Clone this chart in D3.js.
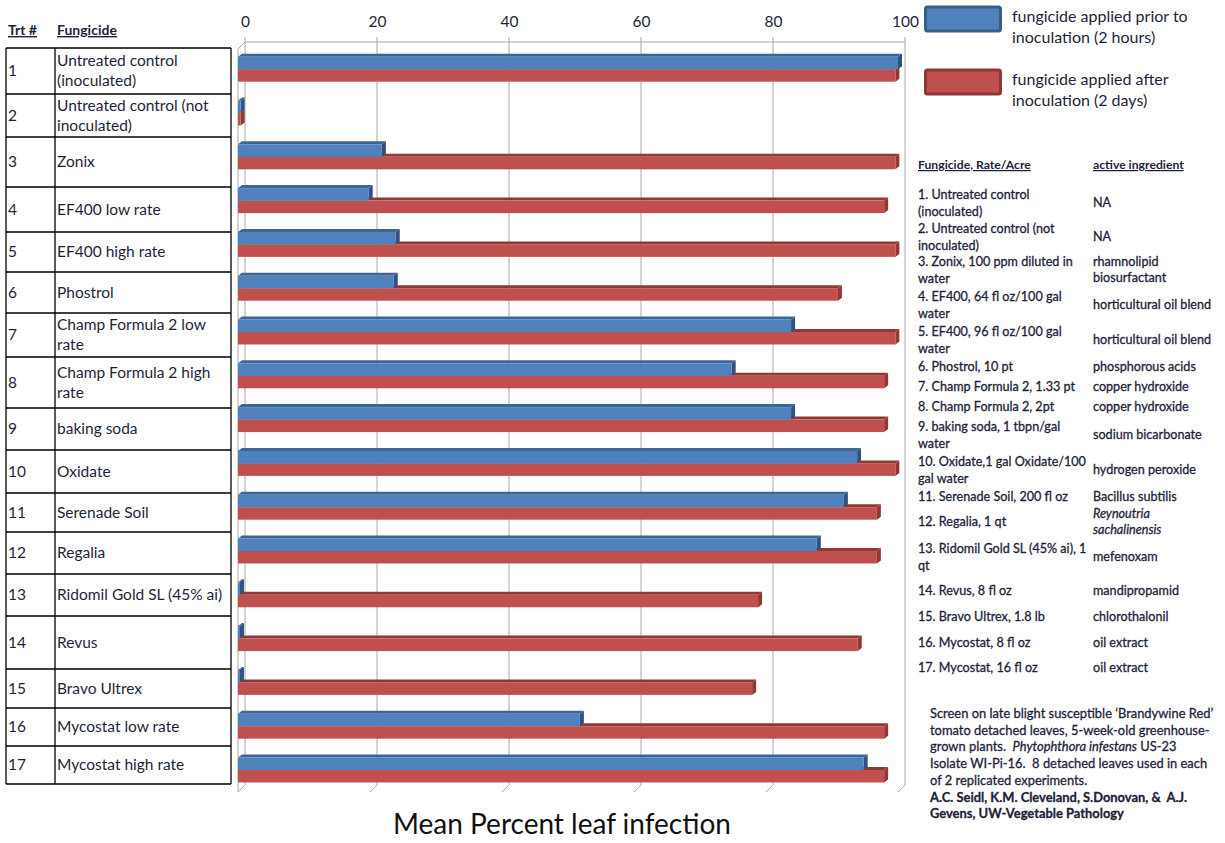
<!DOCTYPE html>
<html>
<head>
<meta charset="utf-8">
<script src="https://cdn.jsdelivr.net/npm/d3@7"></script>
<style>
  body { margin: 0; background: #fff; }
  text { font-family: Lato, "Open Sans", sans-serif; fill: #1f1f3a; }
</style>
</head>
<body>
<div id="chart"></div>
<script>
// treatments, names shown in the left table
const trt = [1, 2, 3, 4, 5, 6, 7, 8, 9, 10, 11, 12, 13, 14, 15, 16, 17];
const fungicideNames = [
  ["Untreated control", "(inoculated)"],
  ["Untreated control (not", "inoculated)"],
  ["Zonix"],
  ["EF400 low rate"],
  ["EF400 high rate"],
  ["Phostrol"],
  ["Champ Formula 2 low", "rate"],
  ["Champ Formula 2 high", "rate"],
  ["baking soda"],
  ["Oxidate"],
  ["Serenade Soil"],
  ["Regalia"],
  ["Ridomil Gold SL (45% ai)"],
  ["Revus"],
  ["Bravo Ultrex"],
  ["Mycostat low rate"],
  ["Mycostat high rate"]
];

// mean percent leaf infection
const priorValues = [100, 0.4, 21.8, 19.8, 23.9, 23.6, 83.8, 74.8, 83.8, 93.8, 91.8, 87.7, 0.3, 0.3, 0.3, 51.8, 94.8];
const afterValues = [99.6, 0.4, 99.6, 97.9, 99.6, 90.9, 99.6, 97.9, 97.9, 99.6, 96.8, 96.8, 78.8, 93.9, 77.9, 97.9, 97.9];

const xTicks = [0, 20, 40, 60, 80, 100];
const seriesNames = [
  ["fungicide applied prior to", "inoculation (2 hours)"],
  ["fungicide applied after", "inoculation (2 days)"]
];

// key table on the right
const rateLabels = [
  ["1. Untreated control", "(inoculated)"],
  ["2. Untreated control (not", "inoculated)"],
  ["3. Zonix, 100 ppm diluted in", "water"],
  ["4. EF400, 64 fl oz/100 gal", "water"],
  ["5. EF400, 96 fl oz/100 gal", "water"],
  ["6. Phostrol, 10 pt"],
  ["7. Champ Formula 2, 1.33 pt"],
  ["8. Champ Formula 2, 2pt"],
  ["9. baking soda, 1 tbpn/gal", "water"],
  ["10. Oxidate,1 gal Oxidate/100", "gal water"],
  ["11. Serenade Soil, 200 fl oz"],
  ["12. Regalia, 1 qt"],
  ["13. Ridomil Gold SL (45% ai), 1", "qt"],
  ["14. Revus, 8 fl oz"],
  ["15. Bravo Ultrex, 1.8 lb"],
  ["16. Mycostat, 8 fl oz"],
  ["17. Mycostat, 16 fl oz"]
];
const activeIngredients = [
  ["NA"], ["NA"], ["rhamnolipid", "biosurfactant"],
  ["horticultural oil blend"], ["horticultural oil blend"],
  ["phosphorous acids"], ["copper hydroxide"], ["copper hydroxide"],
  ["sodium bicarbonate"], ["hydrogen peroxide"], ["Bacillus subtilis"],
  ["Reynoutria", "sachalinensis"], ["mefenoxam"], ["mandipropamid"],
  ["chlorothalonil"], ["oil extract"], ["oil extract"]
];
const italicIngredient = [false, false, false, false, false, false, false, false, false, false, false, true, false, false, false, false, false];

// footnote: each line is a list of [text, style] pieces
const footnote = [
  [["Screen on late blight susceptible \u2018Brandywine Red\u2019", ""]],
  [["tomato detached leaves, 5-week-old greenhouse-", ""]],
  [["grown plants.  ", ""], ["Phytophthora infestans", "i"], [" US-23", ""]],
  [["Isolate WI-Pi-16.  8 detached leaves used in each", ""]],
  [["of 2 replicated experiments.", ""]],
  [["A.C. Seidl, K.M. Cleveland, S.Donovan, &  A.J.", "b"]],
  [["Gevens, UW-Vegetable Pathology", "b"]]
];

// layout (table rows do not line up exactly with the bar bands in the original)
const tableRowEdges = [48, 94, 137, 187, 232, 272, 313, 357, 408, 450, 493, 532, 574, 616, 669, 708, 746, 784];
const keyRowY = [203, 237, 270, 305, 340, 367, 387, 407, 435, 470, 497, 522, 557, 591, 617, 643, 668];

const W = 1225, H = 843;
const svg = d3.select("#chart").append("svg")
    .attr("width", W)
    .attr("height", H);

// 3-D frame: front plane and back wall offset
const front = {left: 238, right: 898, top: 49, bottom: 792};
const depth = {dx: 7, dy: -7};
const xFront = d3.scaleLinear().domain([0, 100]).range([front.left, front.right]);
const xBack = d3.scaleLinear().domain([0, 100]).range([front.left + depth.dx, front.right + depth.dx]);
const backTop = front.top + depth.dy, backBottom = front.bottom + depth.dy;

const y = d3.scaleBand().domain(trt).range([47.3, 791.9]).paddingInner(0.43).paddingOuter(0.215);
const bh = y.bandwidth() / 2;

const gridColor = "#a8a8a8";
const frame = svg.append("g").attr("fill", "none").attr("stroke", gridColor).attr("stroke-width", 1);

// back wall gridlines
frame.selectAll(".grid")
  .data(xTicks)
  .enter().append("line")
    .attr("class", "grid")
    .attr("x1", d => xBack(d)).attr("x2", d => xBack(d))
    .attr("y1", backTop - 5).attr("y2", backBottom);
frame.append("line")
    .attr("x1", xBack(0)).attr("x2", xBack(100))
    .attr("y1", backTop).attr("y2", backTop);
// left wall
frame.append("path")
    .attr("d", `M${xFront(0)},${front.bottom}L${xFront(0)},${front.top}L${xBack(0)},${backTop}`);
// floor ticks
frame.selectAll(".floor")
  .data(xTicks)
  .enter().append("line")
    .attr("class", "floor")
    .attr("x1", d => xBack(d)).attr("y1", backBottom)
    .attr("x2", d => xFront(d)).attr("y2", front.bottom);

// top axis labels
svg.append("g")
    .attr("transform", `translate(0,${backTop})`)
    .call(d3.axisTop(xBack).tickValues(xTicks).tickSize(0).tickPadding(15))
    .call(g => g.select(".domain").remove())
    .selectAll("text")
      .attr("font-size", "15.5px")
      .attr("font-family", "Lato, sans-serif")
      .style("fill", "#1f1f3a");

// 3-D bars
const bd = {dx: 4, dy: -3};
const series = [
  {values: priorValues, front: "#4f81bd", top: "#3d6595", side: "#2f5281", offset: 0},
  {values: afterValues, front: "#c0504d", top: "#8f3836", side: "#943634", offset: 1}
];

function drawBar(g, x1, y0, h, s) {
  const x0 = xFront(0);
  g.append("path")
      .attr("fill", s.top)
      .attr("d", `M${x0},${y0}L${x0 + bd.dx},${y0 + bd.dy}L${x1 + bd.dx},${y0 + bd.dy}L${x1},${y0}Z`);
  g.append("path")
      .attr("fill", s.side)
      .attr("d", `M${x1},${y0}L${x1 + bd.dx},${y0 + bd.dy}L${x1 + bd.dx},${y0 + h + bd.dy}L${x1},${y0 + h}Z`);
  g.append("rect")
      .attr("x", x0).attr("y", y0)
      .attr("width", x1 - x0).attr("height", h)
      .attr("fill", s.front);
}

const barsG = svg.append("g");
trt.forEach((t, i) => {
  const g = barsG.append("g");
  // red (after) first so the blue bar covers its top face
  [series[1], series[0]].forEach(s => {
    drawBar(g, xFront(s.values[i]), y(t) + s.offset * bh, bh, s);
  });
});

// x axis title
svg.append("text")
    .attr("x", 562)
    .attr("y", 834)
    .attr("text-anchor", "middle")
    .attr("font-size", "28px")
    .style("fill", "#111")
    .text("Mean Percent leaf infection");

// left table
const table = svg.append("g");
table.append("text").attr("x", 8).attr("y", 35)
    .attr("font-size", "14px").attr("font-weight", "bold")
    .style("text-decoration", "underline").text("Trt #");
table.append("text").attr("x", 57).attr("y", 35)
    .attr("font-size", "14px").attr("font-weight", "bold")
    .style("text-decoration", "underline").text("Fungicide");

const tblLines = table.append("g").attr("stroke", "#000").attr("stroke-width", 1.3);
tableRowEdges.forEach(e => {
  tblLines.append("line").attr("x1", 6).attr("x2", 231).attr("y1", e).attr("y2", e);
});
[6, 55, 231].forEach(xv => {
  tblLines.append("line").attr("x1", xv).attr("x2", xv)
      .attr("y1", tableRowEdges[0]).attr("y2", tableRowEdges[tableRowEdges.length - 1]);
});

trt.forEach((t, i) => {
  const mid = (tableRowEdges[i] + tableRowEdges[i + 1]) / 2;
  table.append("text").attr("x", 8).attr("y", mid + 5)
      .attr("font-size", "15.5px").text(t);
  const lines = fungicideNames[i];
  lines.forEach((ln, j) => {
    table.append("text")
        .attr("x", 57)
        .attr("y", mid + 5 + (j - (lines.length - 1) / 2) * 20)
        .attr("font-size", "15.5px")
        .text(ln);
  });
});

// legend
const legend = svg.append("g");
series.forEach((s, i) => {
  const ly = 7 + i * 63;
  legend.append("rect")
      .attr("x", 925.5).attr("y", ly)
      .attr("width", 75).attr("height", 24)
      .attr("rx", 2)
      .attr("fill", s.front)
      .attr("stroke", i === 0 ? "#385d8a" : "#8c3836")
      .attr("stroke-width", 3);
  seriesNames[i].forEach((ln, j) => {
    legend.append("text")
        .attr("x", 1012).attr("y", ly + 15 + j * 21)
        .attr("font-size", "16px")
        .text(ln);
  });
});

// key table
const key = svg.append("g").attr("font-size", "12.6px");
key.append("text").attr("x", 918).attr("y", 169)
    .attr("font-size", "12.2px")
    .attr("font-weight", "bold").style("text-decoration", "underline")
    .text("Fungicide, Rate/Acre");
key.append("text").attr("x", 1093).attr("y", 169)
    .attr("font-size", "12.2px")
    .attr("font-weight", "bold").style("text-decoration", "underline")
    .text("active ingredient");

trt.forEach((t, i) => {
  const cy = keyRowY[i];
  rateLabels[i].forEach((ln, j, arr) => {
    key.append("text").attr("x", 918)
        .attr("y", cy + 4 + (j - (arr.length - 1) / 2) * 17)
        .attr("stroke", "#1f1f3a").attr("stroke-width", 0.3)
        .text(ln);
  });
  activeIngredients[i].forEach((ln, j, arr) => {
    key.append("text").attr("x", 1093)
        .attr("y", cy + 4 + (j - (arr.length - 1) / 2) * 16)
        .attr("stroke", "#1f1f3a").attr("stroke-width", 0.3)
        .style("font-style", italicIngredient[i] ? "italic" : "normal")
        .text(ln);
  });
});

// footnote
const note = svg.append("g").attr("font-size", "12.9px");
footnote.forEach((pieces, i) => {
  const tx = note.append("text")
      .attr("x", 930)
      .attr("y", 718 + i * 16.7)
      .attr("stroke", "#1f1f3a").attr("stroke-width", 0.3)
      .style("white-space", "pre");
  pieces.forEach(([txt, st]) => {
    tx.append("tspan")
        .style("font-style", st === "i" ? "italic" : "normal")
        .style("font-weight", st === "b" ? "bold" : "normal")
        .text(txt);
  });
});
</script>
</body>
</html>
